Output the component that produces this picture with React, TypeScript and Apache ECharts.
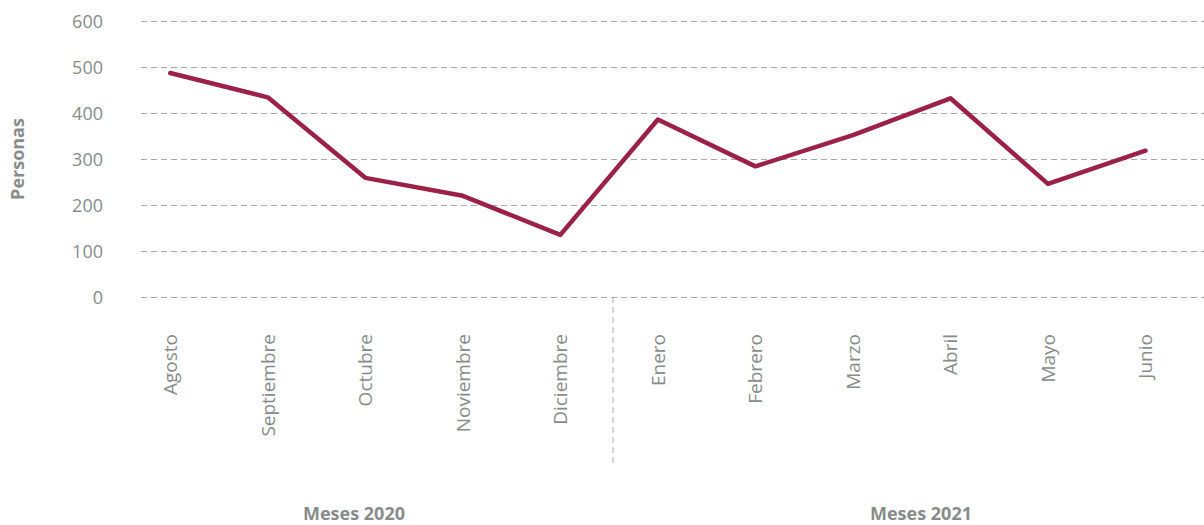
import React, { useEffect, useRef } from "react";
import * as echarts from "echarts";

const categories = [
  "Agosto",
  "Septiembre",
  "Octubre",
  "Noviembre",
  "Diciembre",
  "Enero",
  "Febrero",
  "Marzo",
  "Abril",
  "Mayo",
  "Junio",
];
const personas = [487, 434, 259, 220, 135, 386, 284, 352, 432, 246, 318];
const groupLabels = ["Meses 2020", "Meses 2021"];
const yAxisName = "Personas";

const TEXT = "#878c8a";
const FONT = "'Open Sans', 'Noto Sans', sans-serif";

export default function App() {
  const ref = useRef<HTMLDivElement>(null);

  useEffect(() => {
    if (!ref.current) return;
    const chart = echarts.init(ref.current, undefined, { renderer: "svg" });
    chart.setOption({
      animation: false,
      backgroundColor: "#ffffff",
      textStyle: { fontFamily: FONT },
      grid: { left: 141, right: 0, top: 21, bottom: 228, containLabel: false },
      xAxis: {
        type: "value",
        min: -0.3,
        max: 10.6,
        axisLine: { show: false },
        axisTick: { show: false },
        splitLine: { show: false },
        axisLabel: {
          customValues: categories.map((_, i) => i),
          formatter: (v: number) => categories[Math.round(v)] ?? "",
          rotate: 90,
          margin: 37,
          fontSize: 19,
          color: TEXT,
          fontFamily: FONT,
        },
      },
      yAxis: {
        type: "value",
        min: 0,
        max: 600,
        interval: 100,
        axisLine: { show: false },
        axisTick: { show: false },
        axisLabel: { fontSize: 18, color: TEXT, margin: 38, fontFamily: FONT },
        splitLine: {
          lineStyle: { color: "#a8a8a8", type: [6, 4], width: 1 },
        },
        name: yAxisName,
        nameLocation: "middle",
        nameGap: 115,
        nameTextStyle: {
          fontSize: 18,
          fontWeight: "bold",
          color: TEXT,
          fontFamily: FONT,
        },
      },
      series: [
        {
          type: "line",
          data: personas.map((v, i) => [i, v]),
          showSymbol: false,
          symbol: "none",
          lineStyle: { color: "#9b2148", width: 4.5, cap: "round", join: "round" },
          itemStyle: { color: "#9b2148" },
        },
      ],
      graphic: [
        {
          type: "line",
          shape: { x1: 613, y1: 297, x2: 613, y2: 467 },
          style: { stroke: "#b0b0b0", lineWidth: 1, lineDash: [6, 4] },
        },
        {
          type: "text",
          x: 354,
          y: 513,
          style: {
            text: groupLabels[0],
            fontSize: 18,
            fontWeight: "bold",
            fill: TEXT,
            fontFamily: FONT,
            textAlign: "center",
            textVerticalAlign: "middle",
          },
        },
        {
          type: "text",
          x: 921,
          y: 513,
          style: {
            text: groupLabels[1],
            fontSize: 18,
            fontWeight: "bold",
            fill: TEXT,
            fontFamily: FONT,
            textAlign: "center",
            textVerticalAlign: "middle",
          },
        },
      ],
    });
    return () => chart.dispose();
  }, []);

  return (
    <div
      ref={ref}
      style={{ position: "fixed", left: 0, top: 0, width: 1204, height: 525 }}
    />
  );
}
